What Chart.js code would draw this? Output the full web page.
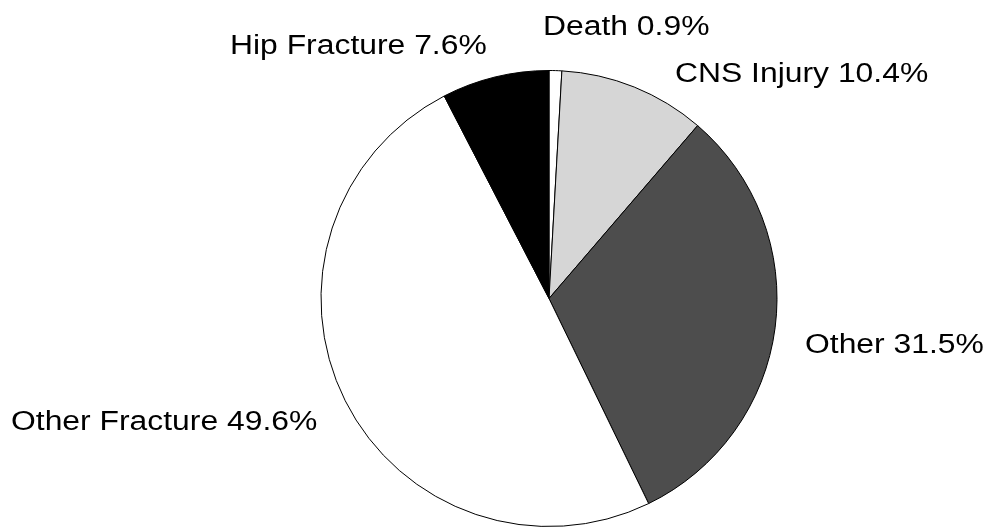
<!DOCTYPE html>
<html>
<head>
<meta charset="utf-8">
<script src="https://cdn.jsdelivr.net/npm/chart.js@4.4.1/dist/chart.umd.min.js"></script>
<style>
  html, body { margin: 0; padding: 0; background: #ffffff; }
  #wrap { width: 990px; height: 529px; }
</style>
</head>
<body>
<div id="wrap"><canvas id="pie" width="990" height="529"></canvas></div>
<script>
// chart data
const categories = ['Death', 'CNS Injury', 'Other', 'Other Fracture', 'Hip Fracture'];
const percentValues = [0.9, 10.4, 31.5, 49.6, 7.6];
const sliceColors = ['#ffffff', '#d6d6d6', '#4d4d4d', '#ffffff', '#000000'];

// label text placement, relative to the pie centre (left edge, baseline)
const labelOffsets = [
  [-6, -264],
  [126, -217],
  [256, 54],
  [-538, 131],
  [-319, -245]
];

// draws "Name xx.x%" next to each slice, slightly stretched like the original
const sliceLabels = {
  id: 'sliceLabels',
  afterDatasetsDraw(chart) {
    const ctx = chart.ctx;
    const arcs = chart.getDatasetMeta(0).data;
    ctx.save();
    ctx.fillStyle = '#000000';
    ctx.font = '27px "Liberation Sans", Arial, sans-serif';
    ctx.textAlign = 'left';
    ctx.textBaseline = 'alphabetic';
    arcs.forEach((arc, i) => {
      const off = labelOffsets[i];
      const text = categories[i] + ' ' + percentValues[i].toFixed(1) + '%';
      ctx.save();
      ctx.translate(arc.x + off[0], arc.y + off[1]);
      ctx.scale(1.18, 1);
      ctx.fillText(text, 0, 0);
      ctx.restore();
    });
    ctx.restore();
  }
};

const ctx = document.getElementById('pie').getContext('2d');
new Chart(ctx, {
  type: 'pie',
  data: {
    labels: categories,
    datasets: [{
      data: percentValues,
      backgroundColor: sliceColors,
      borderColor: '#000000',
      borderWidth: 1
    }]
  },
  options: {
    responsive: false,
    animation: false,
    layout: { padding: { top: 70, bottom: 2, left: 108, right: 0 } },
    plugins: {
      legend: { display: false },
      tooltip: { enabled: false }
    }
  },
  plugins: [sliceLabels]
});
</script>
</body>
</html>
